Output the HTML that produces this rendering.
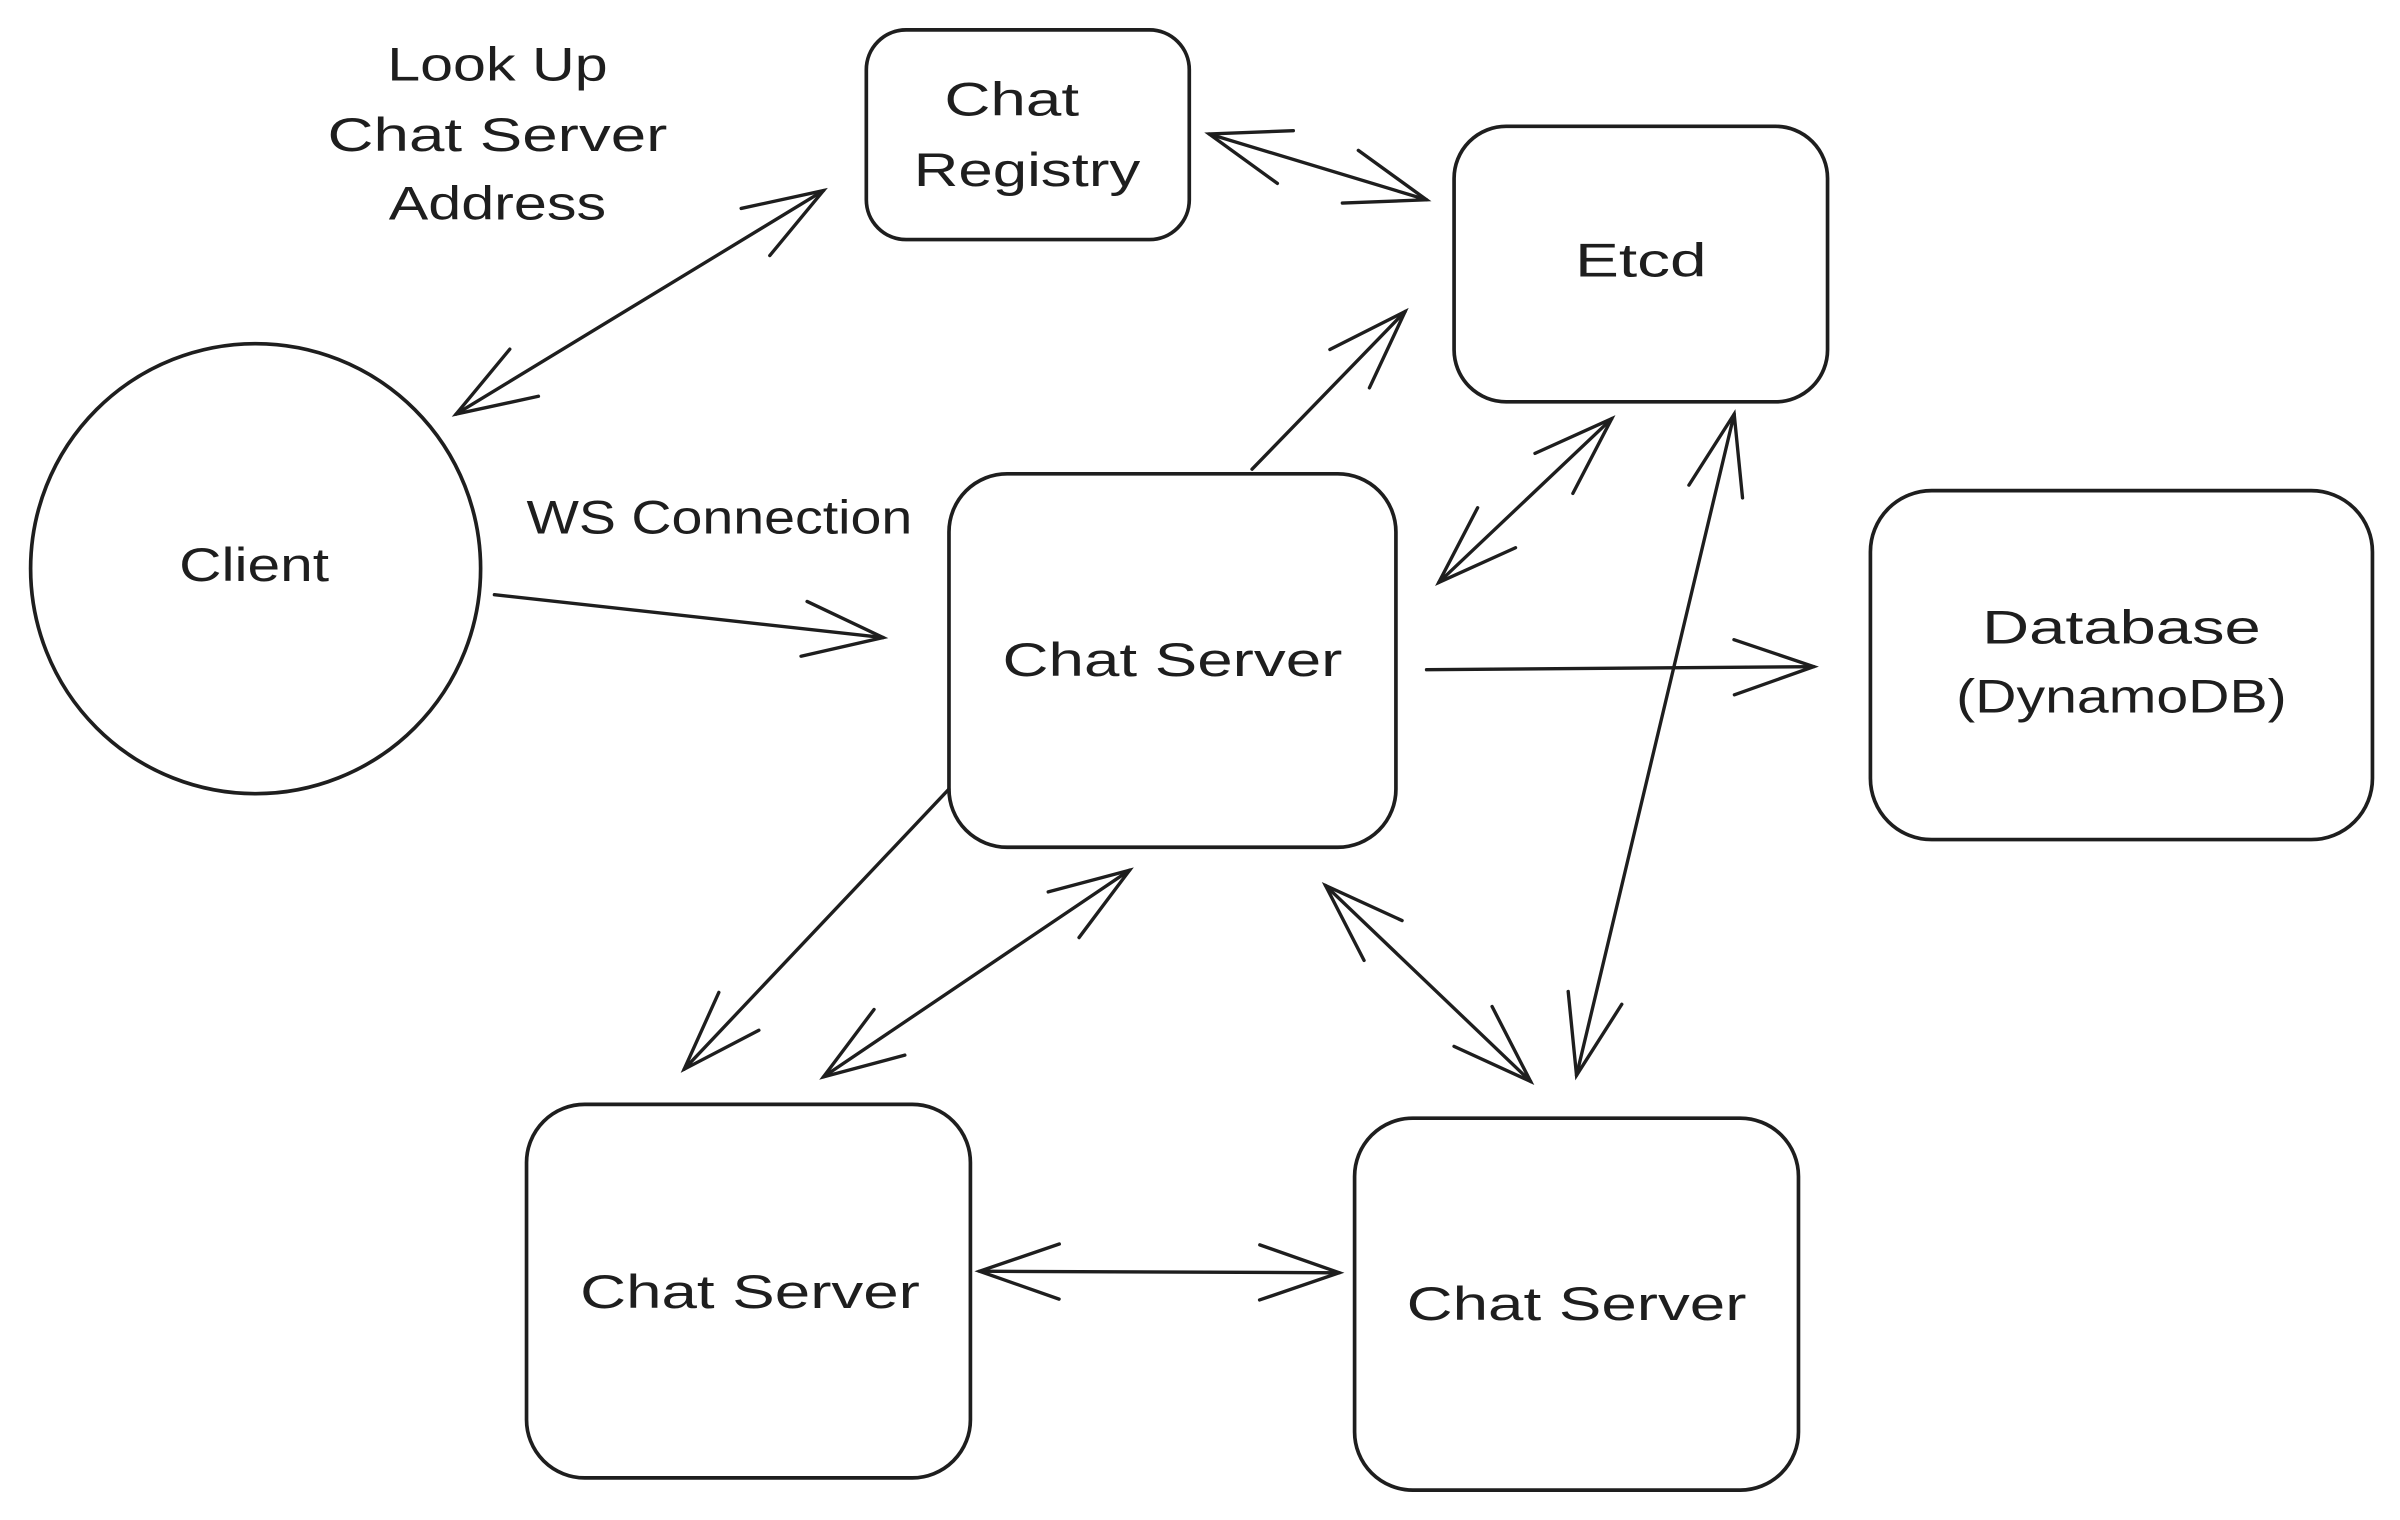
<!DOCTYPE html>
<html><head><meta charset="utf-8"><style>
html,body{margin:0;padding:0;background:#fff;}
svg{display:block;}
text{font-family:"Liberation Sans",sans-serif;font-size:31px;fill:#1e1e1e;text-anchor:middle;}
</style></head><body>
<svg width="2400" height="1520" viewBox="0 0 1568 992" xmlns="http://www.w3.org/2000/svg">
<defs>
<marker id="a" viewBox="-60 -30 70 60" markerWidth="70" markerHeight="60" refX="0" refY="0" orient="auto-start-reverse" markerUnits="userSpaceOnUse">
<path d="M-52,-18 L0,0 L-52,18" fill="none" stroke="#1e1e1e" stroke-width="2.2" stroke-linecap="round"/>
</marker>
</defs>
<g fill="none" stroke="#1e1e1e" stroke-width="2.4">
<rect x="566" y="19" width="211" height="137" rx="26"/>
<rect x="950" y="82" width="244" height="180" rx="34"/>
<circle cx="167" cy="371" r="147"/>
<rect x="620" y="309" width="292" height="244" rx="38"/>
<rect x="1222" y="320" width="328" height="228" rx="40"/>
<rect x="344" y="721" width="290" height="244" rx="38"/>
<rect x="885" y="730" width="290" height="243" rx="38"/>
</g>
<g fill="none" stroke="#1e1e1e" stroke-width="2.2" stroke-linecap="round">
<line x1="298" y1="270" x2="538" y2="124" marker-start="url(#a)" marker-end="url(#a)"/>
<line x1="790" y1="87" x2="932" y2="130" marker-start="url(#a)" marker-end="url(#a)"/>
<line x1="818" y1="306" x2="918" y2="203" marker-end="url(#a)"/>
<line x1="1053" y1="273" x2="940" y2="380" marker-start="url(#a)" marker-end="url(#a)"/>
<line x1="1133" y1="270" x2="1030" y2="702" marker-start="url(#a)" marker-end="url(#a)"/>
<line x1="323" y1="388" x2="577" y2="416" marker-end="url(#a)"/>
<line x1="932" y1="437" x2="1185" y2="435" marker-end="url(#a)"/>
<line x1="620" y1="515" x2="447" y2="698" marker-end="url(#a)"/>
<line x1="538" y1="703" x2="738" y2="568" marker-start="url(#a)" marker-end="url(#a)"/>
<line x1="866" y1="578" x2="1000" y2="706" marker-start="url(#a)" marker-end="url(#a)"/>
<line x1="640" y1="830" x2="875" y2="831" marker-start="url(#a)" marker-end="url(#a)"/>
</g>
<text x="661" y="75" textLength="88" lengthAdjust="spacingAndGlyphs">Chat</text>
<text x="671" y="121" textLength="148" lengthAdjust="spacingAndGlyphs">Registry</text>
<text x="1072" y="180" textLength="86" lengthAdjust="spacingAndGlyphs">Etcd</text>
<text x="166" y="379" textLength="98" lengthAdjust="spacingAndGlyphs">Client</text>
<text x="766" y="441" textLength="222" lengthAdjust="spacingAndGlyphs">Chat Server</text>
<text x="1386" y="420" textLength="182" lengthAdjust="spacingAndGlyphs">Database</text>
<text x="1386" y="465" textLength="216" lengthAdjust="spacingAndGlyphs">(DynamoDB)</text>
<text x="490" y="854" textLength="222" lengthAdjust="spacingAndGlyphs">Chat Server</text>
<text x="1030" y="862" textLength="222" lengthAdjust="spacingAndGlyphs">Chat Server</text>
<text x="325" y="52" textLength="144" lengthAdjust="spacingAndGlyphs">Look Up</text>
<text x="325" y="98" textLength="222" lengthAdjust="spacingAndGlyphs">Chat Server</text>
<text x="325" y="143" textLength="142" lengthAdjust="spacingAndGlyphs">Address</text>
<text x="470" y="348" textLength="252" lengthAdjust="spacingAndGlyphs">WS Connection</text>
</svg>
</body></html>
